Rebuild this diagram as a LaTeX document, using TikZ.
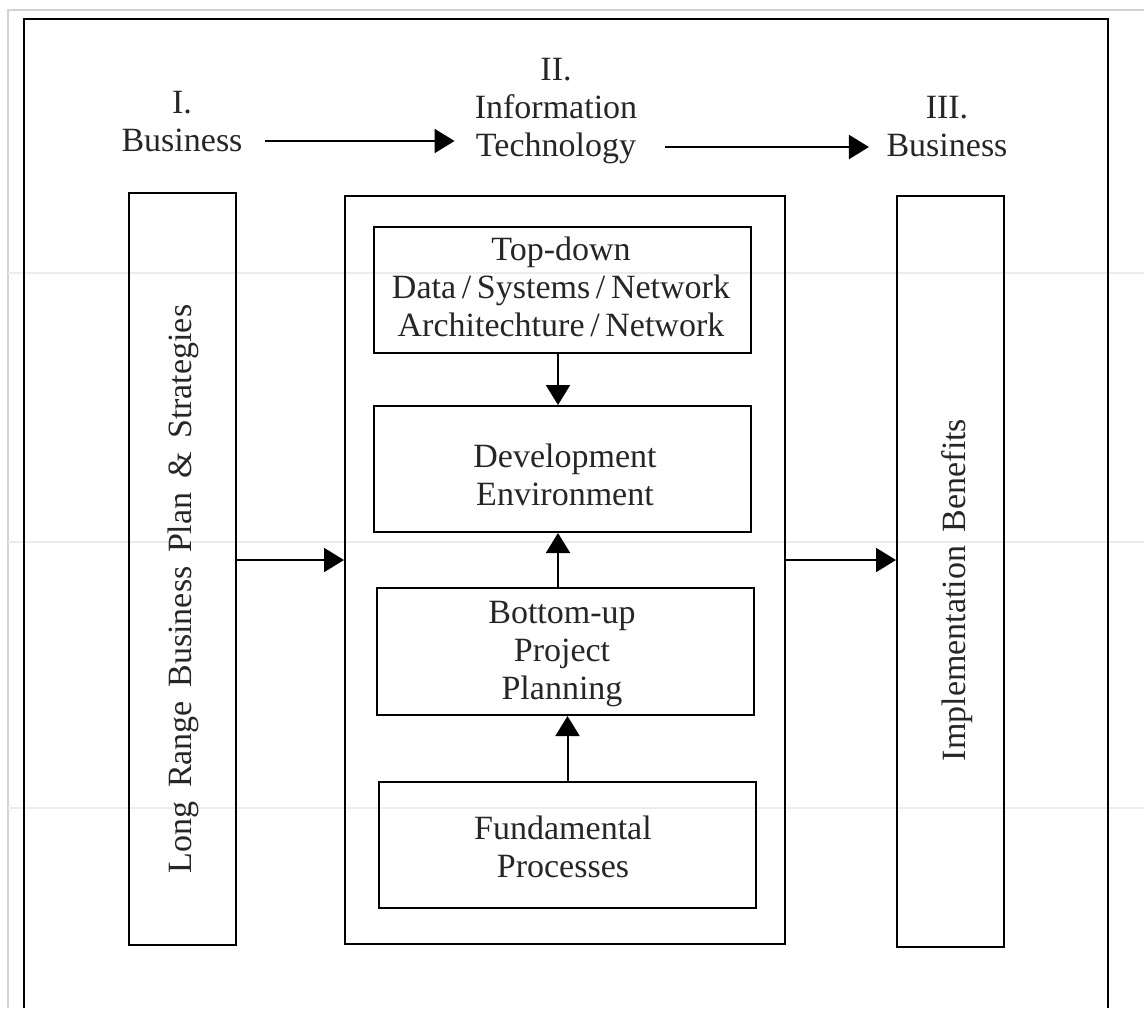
\documentclass[tikz,border=0pt]{standalone}
\usepackage{fontspec}
\setmainfont{Liberation Serif}
\newfontfamily\widespfont{Liberation Serif}[WordSpace=1.6]
\usetikzlibrary{arrows.meta,fit}
\begin{document}
\begin{tikzpicture}[x=0.75pt,y=-0.75pt,
  box/.style={draw, line width=1.5pt, inner sep=0pt},
  lbl/.style={align=center, font=\fontsize{25.5}{28.5}\selectfont, inner sep=0pt, text=black!85},
  vlbl/.style={lbl, rotate=90, font=\widespfont\fontsize{25.5}{28.5}\selectfont},
  arr/.style={line width=1.5pt, -{Triangle[length=15pt,width=18pt]}},
  faint/.style={gray!15, line width=1.2pt}]
\useasboundingbox (0,0) rectangle (1144,1008);
% page background lines
\draw[gray!35, line width=1.2pt] (8,1008) -- (8,10) -- (1144,10);
\foreach \y in {273,542,808} \draw[faint] (8,\y) -- (1144,\y);
% outer frame
\draw[line width=1.5pt] (24,1008) -- (24,19) -- (1108,19) -- (1108,1008);
% helper coordinates
\coordinate (ya) at (0,560);
\coordinate (yb) at (0,141);
\coordinate (yc) at (0,147);
\coordinate (xa) at (558,0);
% headings
\node[lbl] (I1) at (182,122) {I.\\Business};
\node[lbl] (II) at (556,111) {II.\\Information\\Technology};
\node[lbl] (III) at (947,127) {III.\\Business};
% boxes
\node[box, fit={(129,193) (236,945)}] (L) {};
\node[vlbl] (Lt) at (183,589) {Long Range Business Plan \& Strategies};
\node[box, fit={(345,196) (785,944)}] (M) {};
\node[box, fit={(897,196) (1004,947)}] (R) {};
\node[vlbl] (Rt) at (957,590) {Implementation Benefits};
\node[box, fit={(374,227) (751,353)}] (T) {};
\node[lbl] (Tt) at (561,287) {Top-down\\Data\,/\,Systems\,/\,Network\\Architechture\,/\,Network};
\node[box, fit={(374,406) (751,532)}] (D) {};
\node[lbl] (Dt) at (565,475) {Development\\Environment};
\node[box, fit={(377,588) (754,715)}] (B) {};
\node[lbl] (Bt) at (562,654) {Bottom-up\\Project\\Planning};
\node[box, fit={(379,782) (756,908)}] (F) {};
\node[lbl] (Ft) at (563,847) {Fundamental\\Processes};
% connectors
\draw[arr, shorten <=17pt, shorten >=15pt] (I1.east |- yb) -- (II.west |- yb);
\draw[arr, shorten <=21pt, shorten >=13pt] (II.east |- yc) -- (III.west |- yc);
\draw[arr] (L.east |- ya) -- (M.west |- ya);
\draw[arr] (M.east |- ya) -- (R.west |- ya);
\draw[arr] (T.south -| xa) -- (D.north -| xa);
\draw[arr] (B.north -| xa) -- (D.south -| xa);
\draw[arr] (F.north) -- (F.north |- B.south);
\end{tikzpicture}
\end{document}
